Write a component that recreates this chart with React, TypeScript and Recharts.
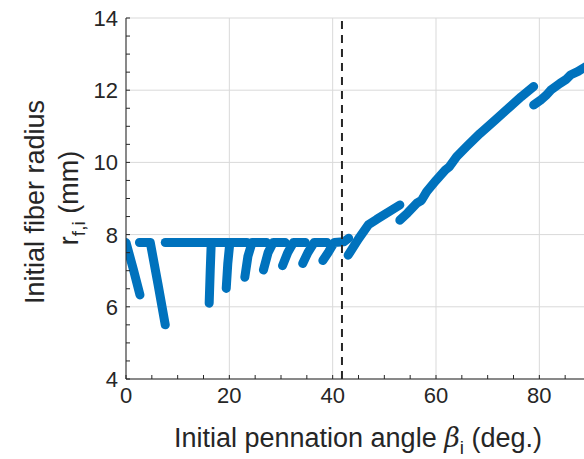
import { ComposedChart, Line, XAxis, YAxis, CartesianGrid, ReferenceLine } from 'recharts';

// Each run of the sweep is a separate polyline: [angle (deg), radius (mm)]
const run1 = [[0, 7.78], [1.4, 7.05], [2.7, 6.33]];
const run2 = [[2.6, 7.78], [4.7, 7.78], [6.2, 6.62], [7.6, 5.5]];
const run3 = [[7.6, 7.78], [16.4, 7.78]];
const run4 = [[16.1, 6.1], [16.3, 7.0], [16.5, 7.78], [19.6, 7.78]];
const run5 = [[19.4, 6.51], [19.7, 7.2], [20.1, 7.78], [23.4, 7.78]];
const run6 = [[23.0, 6.82], [23.6, 7.4], [24.4, 7.78], [27.2, 7.78]];
const run7 = [[26.6, 7.02], [27.5, 7.5], [28.5, 7.78], [30.8, 7.78]];
const run8 = [[30.3, 7.14], [31.3, 7.5], [32.4, 7.78], [34.7, 7.78]];
const run9 = [[34.2, 7.2], [35.2, 7.5], [36.4, 7.78], [38.9, 7.78]];
const run10 = [[38.1, 7.28], [39.2, 7.52], [40.3, 7.78], [42.2, 7.8], [43.1, 7.9]];
const run11 = [[43.0, 7.43], [45.0, 7.88], [46.9, 8.27], [48.5, 8.42], [53.0, 8.82]];
const run12 = [
  [53.0, 8.4], [54.5, 8.6], [56.3, 8.87], [57.2, 8.95], [58.2, 9.19], [60.0, 9.5],
  [61.8, 9.79], [62.6, 9.88], [64.0, 10.16], [66.0, 10.45], [68.5, 10.8],
  [71.5, 11.18], [74.3, 11.54], [76.5, 11.82], [78.9, 12.1],
];
const run13 = [
  [78.9, 11.59], [80.2, 11.72], [81.4, 11.87], [82.2, 12.0], [84.0, 12.19],
  [85.2, 12.3], [86.0, 12.42], [87.5, 12.52], [89.5, 12.7],
];

const runs = [run1, run2, run3, run4, run5, run6, run7, run8, run9, run10, run11, run12, run13];

const xMajorTicks = [0, 20, 40, 60, 80];
const xMinorTicks = [0, 5, 10, 15, 20, 25, 30, 35, 40, 45, 50, 55, 60, 65, 70, 75, 80, 85, 90];
const yMajorTicks = [4, 6, 8, 10, 12, 14];
const yMinorTicks = [4, 4.5, 5, 5.5, 6, 6.5, 7, 7.5, 8, 8.5, 9, 9.5, 10, 10.5, 11, 11.5, 12, 12.5, 13, 13.5, 14];

// angle where the behaviour changes
const transitionAngle = 41.8;

const axisColor = '#262626';
const lineColor = '#0072BD';
const font = '"Liberation Sans", Arial, sans-serif';
const tickLen = 4;

const BottomTick = (props: any) => {
  const { x, y, payload } = props;
  const major = xMajorTicks.includes(payload.value);
  return (
    <g>
      <line x1={x} x2={x} y1={y} y2={y - tickLen} stroke={axisColor} />
      {major && (
        <text x={x} y={y + 24} textAnchor="middle" fontSize={22} fontFamily={font} fill={axisColor}>
          {payload.value}
        </text>
      )}
    </g>
  );
};

const TopTick = (props: any) => {
  const { x, y } = props;
  return <line x1={x} x2={x} y1={y} y2={y + tickLen} stroke={axisColor} />;
};

const LeftTick = (props: any) => {
  const { x, y, payload } = props;
  const major = yMajorTicks.includes(payload.value);
  return (
    <g>
      <line x1={x} x2={x + tickLen} y1={y} y2={y} stroke={axisColor} />
      {major && (
        <text x={x - 8} y={y + 8} textAnchor="end" fontSize={22} fontFamily={font} fill={axisColor}>
          {payload.value}
        </text>
      )}
    </g>
  );
};

export default function App() {
  return (
    <div style={{ position: 'fixed', left: 0, top: 0, width: 584, height: 459, overflow: 'hidden', background: '#fff' }}>
      <ComposedChart width={600} height={459} margin={{ top: 18, right: 9, bottom: 0, left: 0 }}>
        <CartesianGrid stroke="#d9d9d9" verticalValues={xMajorTicks} horizontalValues={yMajorTicks} />
        <XAxis
          dataKey="x"
          type="number"
          domain={[0, 90]}
          ticks={xMinorTicks}
          interval={0}
          tickLine={false}
          tickSize={0}
          tickMargin={0}
          tick={BottomTick}
          height={80}
          stroke={axisColor}
          allowDataOverflow
        />
        <XAxis
          xAxisId="top"
          orientation="top"
          type="number"
          domain={[0, 90]}
          ticks={xMinorTicks}
          interval={0}
          tickLine={false}
          tickSize={0}
          tickMargin={0}
          tick={TopTick}
          height={0}
          stroke={axisColor}
        />
        <YAxis
          type="number"
          domain={[4, 14]}
          ticks={yMinorTicks}
          interval={0}
          tickLine={false}
          tickSize={0}
          tickMargin={0}
          tick={LeftTick}
          width={126}
          stroke={axisColor}
          allowDataOverflow
        />
        {runs.map((run, i) => (
          <Line
            key={i}
            data={run.map(([x, y]) => ({ x, y }))}
            dataKey="y"
            type="linear"
            stroke={lineColor}
            strokeWidth={9}
            strokeLinecap="round"
            strokeLinejoin="round"
            dot={false}
            activeDot={false}
            isAnimationActive={false}
          />
        ))}
        <ReferenceLine x={transitionAngle} stroke={axisColor} strokeWidth={2} strokeDasharray="8 6" />
      </ComposedChart>
      <svg width={584} height={459} style={{ position: 'absolute', left: 0, top: 0, pointerEvents: 'none' }}>
        <g fontFamily={font} fontSize={27} fill={axisColor}>
          <text transform="translate(43.5,202) rotate(-90)" textAnchor="middle">
            Initial fiber radius
          </text>
          <text transform="translate(78,198) rotate(-90)" textAnchor="middle">
            r
            <tspan dy={7} fontSize={19}>f,i</tspan>
            <tspan dy={-7}> (mm)</tspan>
          </text>
          <text x={358} y={447} textAnchor="middle">
            Initial pennation angle{' '}
            <tspan fontStyle="italic" fontFamily='"DejaVu Serif", serif'>β</tspan>
            <tspan dy={7} fontSize={19}>i</tspan>
            <tspan dy={-7}> (deg.)</tspan>
          </text>
        </g>
      </svg>
    </div>
  );
}
